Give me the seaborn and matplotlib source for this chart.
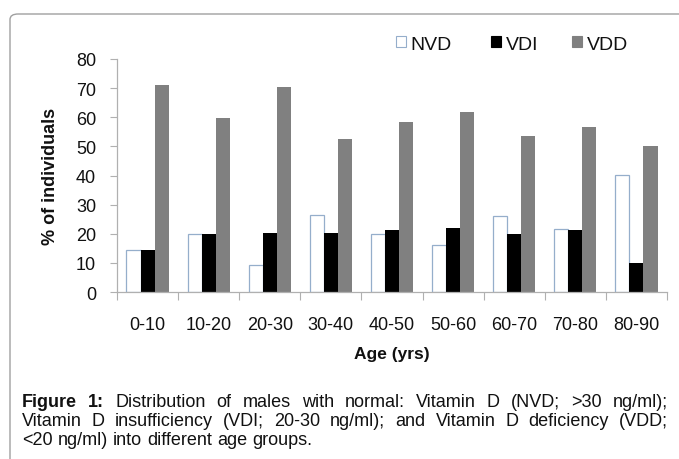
import numpy as np
import pandas as pd
import matplotlib
matplotlib.use('Agg')
import matplotlib.pyplot as plt
import seaborn as sns
from matplotlib.patches import FancyBboxPatch, Patch

# dados
faixas = ['0-10', '10-20', '20-30', '30-40', '40-50', '50-60', '60-70', '70-80', '80-90']
nvd = [14.5, 20.0, 9.2, 26.6, 20.0, 16.0, 26.1, 21.7, 40.2]
vdi = [14.3, 19.8, 20.3, 20.3, 21.2, 22.0, 19.8, 21.4, 9.8]
vdd = [71.2, 59.8, 70.4, 52.7, 58.5, 61.8, 53.7, 56.5, 50.0]
grupos = ['NVD', 'VDI', 'VDD']
cores = ['white', 'black', '#808080']

df = pd.DataFrame({'faixa': faixas * 3,
                   'grupo': ['NVD'] * 9 + ['VDI'] * 9 + ['VDD'] * 9,
                   'valor': nvd + vdi + vdd})

sns.set_style('white')
plt.rcParams['font.family'] = ['Liberation Sans', 'DejaVu Sans']

W, H = 679, 460
fig = plt.figure(figsize=(W / 100, H / 100), dpi=100)
ax = fig.add_axes([117 / W, 1 - 293 / H, 550 / W, 233 / H])

sns.barplot(data=df, x='faixa', y='valor', hue='grupo', order=faixas, hue_order=grupos,
            palette=cores, width=0.69, saturation=1, ax=ax, legend=False)

# bordas das barras
for cont, g in zip(ax.containers, grupos):
    for b in cont:
        if g == 'NVD':
            b.set_edgecolor('#95AECB')
            b.set_linewidth(0.9)
        else:
            b.set_edgecolor('none')

ax.set_ylim(0, 80)
ax.set_xlim(-0.5, 8.5)
ax.set_yticks(range(0, 81, 10))
ax.set_xlabel('Age (yrs)', fontsize=12.5, fontweight='bold', labelpad=10, color='#111')
ax.set_ylabel('% of individuals', fontsize=13, fontweight='bold', labelpad=12, color='#111')

for s in ['top', 'right']:
    ax.spines[s].set_visible(False)
for s in ['left', 'bottom']:
    ax.spines[s].set_color('#B0B0B0')
    ax.spines[s].set_linewidth(0.9)

ax.tick_params(axis='y', left=True, length=5, width=0.8, color='#B0B0B0',
               labelsize=13, pad=10, labelcolor='#111')
ax.tick_params(axis='x', which='major', bottom=False, length=0, labelsize=13,
               pad=17, labelcolor='#111')
ax.set_xticks(np.arange(-0.5, 9, 1), minor=True)
ax.tick_params(axis='x', which='minor', bottom=True, length=6, width=0.8, color='#B0B0B0')

# legenda: uma entrada por vez, na posição da original
pos_leg = [396, 491, 572]
for g, c, px in zip(grupos, cores, pos_leg):
    h = Patch(facecolor=c, edgecolor=('#95AECB' if c == 'white' else c), linewidth=0.8)
    leg = fig.legend([h], [g], loc='center left', bbox_to_anchor=(px / W, 1 - 45 / H),
                     frameon=False, fontsize=14, handlelength=0.5, handleheight=0.5,
                     handletextpad=0.25, borderpad=0, borderaxespad=0, labelcolor='#111')

# moldura arredondada
moldura = FancyBboxPatch((10 / W, -0.2), 1.2, 1 - 15 / H + 0.2,
                         boxstyle='round,pad=0,rounding_size=0.012',
                         transform=fig.transFigure, facecolor='none',
                         edgecolor='#A0A0A0', linewidth=1.0)
fig.patches.append(moldura)

# legenda da figura, justificada
fig.canvas.draw()
renderer = fig.canvas.get_renderer()
fs = 13
x0, x1 = 22, 668


def largura(txt, peso='normal'):
    t = fig.text(0, 0, txt, fontsize=fs, fontweight=peso)
    bb = t.get_window_extent(renderer)
    t.remove()
    return bb.width


def linha(palavras, y, justificar=True):
    larg = [largura(p, w) for p, w in palavras]
    if justificar and len(palavras) > 1:
        esp = (x1 - x0 - sum(larg)) / (len(palavras) - 1)
    else:
        esp = largura('a b') - largura('ab')
    x = x0
    for (p, w), l in zip(palavras, larg):
        fig.text(x / W, 1 - y / H, p, fontsize=fs, fontweight=w, va='center', ha='left',
                 color='#111')
        x += l + esp


l1 = [('Figure', 'bold'), ('1:', 'bold')] + [(p, 'normal') for p in
      'Distribution of males with normal: Vitamin D (NVD; >30 ng/ml);'.split()]
l2 = [(p, 'normal') for p in
      'Vitamin D insufficiency (VDI; 20-30 ng/ml); and Vitamin D deficiency (VDD;'.split()]
l3 = [(p, 'normal') for p in '<20 ng/ml) into different age groups.'.split()]
linha(l1, 402.5)
linha(l2, 421.5)
linha(l3, 440.5, justificar=False)

fig.savefig('out.png', dpi=100)
